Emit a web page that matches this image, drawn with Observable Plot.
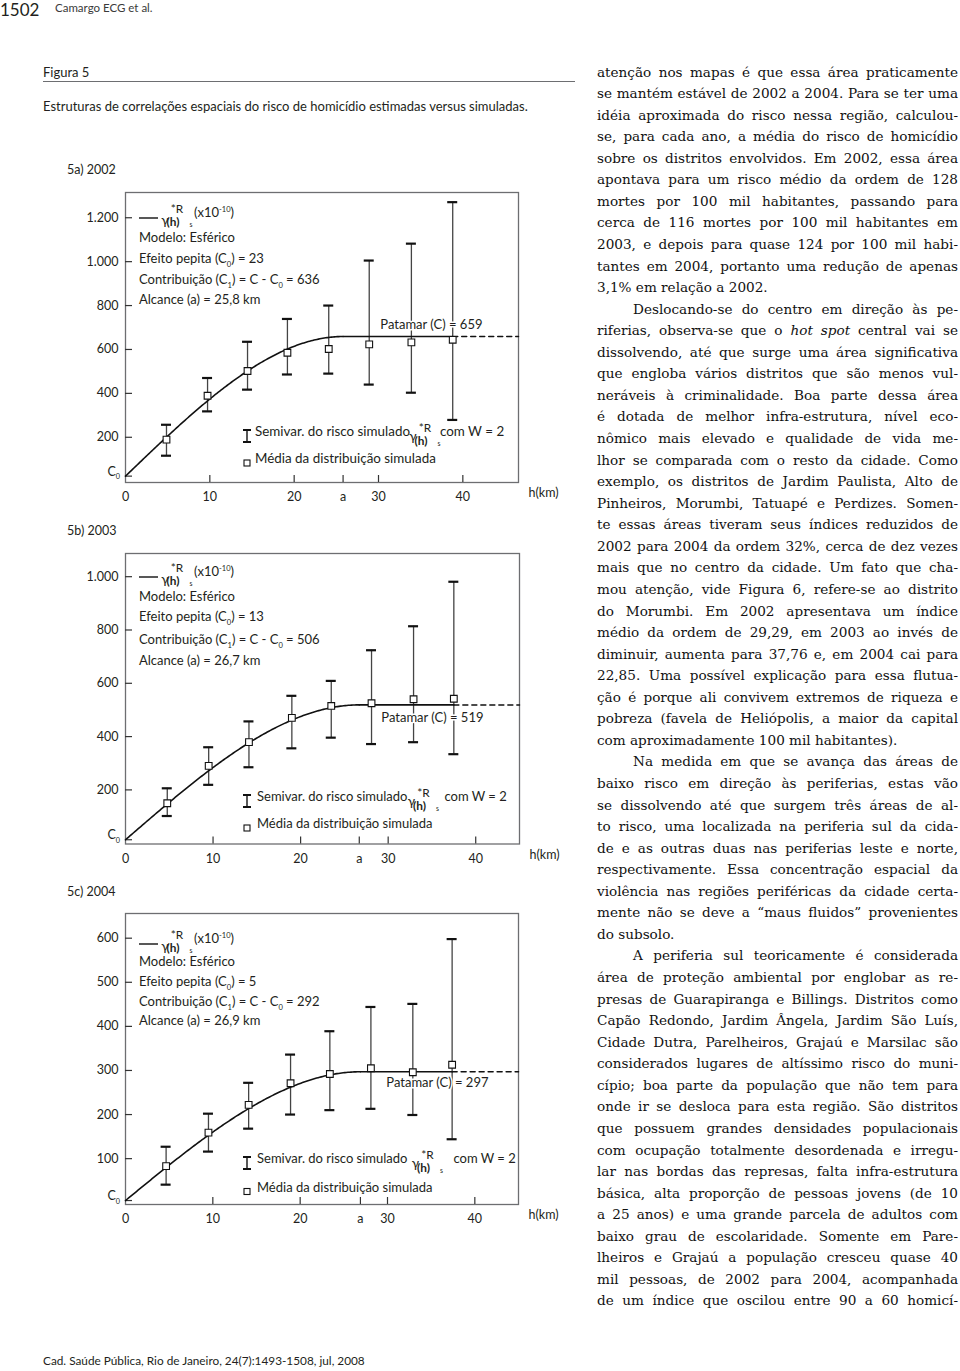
<!DOCTYPE html>
<html lang="pt">
<head>
<meta charset="utf-8">
<script src="https://cdn.jsdelivr.net/npm/d3@7"></script>
<script src="https://cdn.jsdelivr.net/npm/@observablehq/plot@0.6"></script>
<style>
  html, body { margin:0; padding:0; background:#fff; }
  body { position:relative; width:960px; height:1371px; overflow:hidden; font-family: Lato, "Open Sans", sans-serif; color:#231f20; }
  .abs { position:absolute; white-space:nowrap; line-height:1; }
  .body-line { position:absolute; font-family:"DejaVu Serif", serif; font-size:13.6px; line-height:21.56px; height:21.56px; color:#111; }
  .just { text-align:justify; text-align-last:justify; }
  .panel { position:absolute; left:40px; }
  #rule { position:absolute; left:43px; top:81px; width:532px; height:0; border-top:1px solid #6d6e71; }
</style>
</head>
<body>
<div id="rule"></div>
<script>
// ---------------- data ----------------
const years = ["2002", "2003", "2004"];
const panelLabels = ["5a) 2002", "5b) 2003", "5c) 2004"];

const lags2002 = [4.86, 9.73, 14.47, 19.2, 24.1, 28.9, 33.9, 38.8];
const mean2002 = [189, 389, 502, 585, 602, 623, 632, 644];
const low2002  = [116, 318, 417, 486, 490, 440, 403, 279];
const high2002 = [257, 470, 635, 739, 800, 1005, 1082, 1271];

const lags2003 = [4.77, 9.5, 14.1, 19.0, 23.5, 28.1, 32.9, 37.5];
const mean2003 = [150, 290, 379, 470, 515, 525, 540, 542];
const low2003  = [102, 219, 285, 356, 396, 372, 379, 334];
const high2003 = [206, 360, 457, 553, 609, 724, 814, 981];

const lags2004 = [4.65, 9.5, 14.1, 18.9, 23.4, 28.1, 32.9, 37.4];
const mean2004 = [83, 159, 222, 271, 292, 305, 296, 313];
const low2004  = [41, 116, 168, 200, 210, 213, 199, 144];
const high2004 = [127, 202, 272, 336, 389, 444, 451, 598];

// spherical model parameters (as printed in each panel)
const nugget = [23, 13, 5];            // Efeito pepita (C0)
const contribution = [636, 506, 292];  // Contribuição (C1)
const rangeKm = [25.8, 26.7, 26.9];    // Alcance (a)
const sill = [659, 519, 297];          // Patamar (C)

const yTicks2002 = [200, 400, 600, 800, 1000, 1200];
const yTicks2003 = [200, 400, 600, 800, 1000];
const yTicks2004 = [100, 200, 300, 400, 500, 600];
const xTicks = [0, 10, 20, 30, 40];

const bodyLines = [
  "atenção nos mapas é que essa área praticamente",
  "se mantém estável de 2002 a 2004. Para se ter uma",
  "idéia aproximada do risco nessa região, calculou-",
  "se, para cada ano, a média do risco de homicídio",
  "sobre os distritos envolvidos. Em 2002, essa área",
  "apontava para um risco médio da ordem de 128",
  "mortes por 100 mil habitantes, passando para",
  "cerca de 116 mortes por 100 mil habitantes em",
  "2003, e depois para quase 124 por 100 mil habi-",
  "tantes em 2004, portanto uma redução de apenas",
  "3,1% em relação a 2002.",
  "Deslocando-se do centro em direção às pe-",
  "riferias, observa-se que o <i>hot spot</i> central vai se",
  "dissolvendo, até que surge uma área significativa",
  "que engloba vários distritos que são menos vul-",
  "neráveis à criminalidade. Boa parte dessa área",
  "é dotada de melhor infra-estrutura, nível eco-",
  "nômico mais elevado e qualidade de vida me-",
  "lhor se comparada com o resto da cidade. Como",
  "exemplo, os distritos de Jardim Paulista, Alto de",
  "Pinheiros, Morumbi, Tatuapé e Perdizes. Somen-",
  "te essas áreas tiveram seus índices reduzidos de",
  "2002 para 2004 da ordem 32%, cerca de dez vezes",
  "mais que no centro da cidade. Um fato que cha-",
  "mou atenção, vide Figura 6, refere-se ao distrito",
  "do Morumbi. Em 2002 apresentava um índice",
  "médio da ordem de 29,29, em 2003 ao invés de",
  "diminuir, aumenta para 37,76 e, em 2004 cai para",
  "22,85. Uma possível explicação para essa flutua-",
  "ção é porque ali convivem extremos de riqueza e",
  "pobreza (favela de Heliópolis, a maior da capital",
  "com aproximadamente 100 mil habitantes).",
  "Na medida em que se avança das áreas de",
  "baixo risco em direção às periferias, estas vão",
  "se dissolvendo até que surgem três áreas de al-",
  "to risco, uma localizada na periferia sul da cida-",
  "de e as outras duas nas periferias leste e norte,",
  "respectivamente. Essa concentração espacial da",
  "violência nas regiões periféricas da cidade certa-",
  "mente não se deve a “maus fluidos” provenientes",
  "do subsolo.",
  "A periferia sul teoricamente é considerada",
  "área de proteção ambiental por englobar as re-",
  "presas de Guarapiranga e Billings. Distritos como",
  "Capão Redondo, Jardim Ângela, Jardim São Luís,",
  "Cidade Dutra, Parelheiros, Grajaú e Marsilac são",
  "considerados lugares de altíssimo risco do muni-",
  "cípio; boa parte da população que não tem para",
  "onde ir se desloca para esta região. São distritos",
  "que possuem grandes densidades populacionais",
  "com ocupação totalmente desordenada e irregu-",
  "lar nas bordas das represas, falta infra-estrutura",
  "básica, alta proporção de pessoas jovens (de 10",
  "a 25 anos) e uma grande parcela de adultos com",
  "baixo grau de escolaridade. Somente em Pare-",
  "lheiros e Grajaú a população cresceu quase 40",
  "mil pessoas, de 2002 para 2004, acompanhada",
  "de um índice que oscilou entre 90 a 60 homicí-"
];
const paraStart = [11, 32, 41];
const paraEnd = [10, 31, 40];

// ---------------- layout (not data) ----------------
const FONT = "Lato, 'Open Sans', sans-serif";
const INK = "#231f20";
const seriesLags = [lags2002, lags2003, lags2004];
const seriesMean = [mean2002, mean2003, mean2004];
const seriesLow = [low2002, low2003, low2004];
const seriesHigh = [high2002, high2003, high2004];
const seriesYTicks = [yTicks2002, yTicks2003, yTicks2004];

const layout = [
  {top:192, bottom:482, right:518, yDom:[-6, 1315], xMax:46.6, legY:[25,50,71,92,112], simX:130, lfs:13.4, gGap:3, comGap:27, patDx:-36, patDy:-12, legB:[46,19], labelY:171},
  {top:553, bottom:843.5, right:519, yDom:[-3, 1087], xMax:45.0, legY:[23,48,68,91,112], simX:132, lfs:13.0, gGap:4, comGap:33, patDx:-36, patDy:13, legB:[42.5,15.5], labelY:532},
  {top:913, bottom:1204, right:518, yDom:[-4, 656], xMax:45.0, legY:[30,53,73,93,112], simX:132, lfs:13.0, gGap:8, comGap:38, patDx:-30, patDy:11, legB:[41,12.5], labelY:893}
];

function place(text, x, yc, fs, opts = {}) {
  const d = document.createElement("div");
  d.className = "abs";
  d.style.left = x + "px";
  d.style.top = (yc - 0.53 * fs) + "px";
  d.style.fontSize = fs + "px";
  if (opts.color) d.style.color = opts.color;
  d.textContent = text;
  document.body.appendChild(d);
  return d;
}

// header / footer
place("1502", 0, 10, 17, {color:"#231f20"});
place("Camargo ECG et al.", 55, 8.5, 11.5, {color:"#3a3a3a"});
place("Figura 5", 43, 73, 13);
place("Estruturas de correlações espaciais do risco de homicídio estimadas versus simuladas.", 43, 107, 13);
place("Cad. Saúde Pública, Rio de Janeiro, 24(7):1493-1508, jul, 2008", 43, 1361, 11.8);

// rich svg text with sub/superscripts
function rich(g, x, y, parts, fs, anchor = "start", weight = null) {
  const t = g.append("text").attr("x", x).attr("y", y).attr("font-size", fs)
    .attr("text-anchor", anchor).attr("dy", "0.36em");
  if (weight) t.attr("font-weight", weight);
  let shift = 0;
  for (const p of parts) {
    const [s, k] = typeof p === "string" ? [p, ""] : p;
    const target = k === "sub" ? fs * 0.28 : k === "sup" ? -fs * 0.38 : 0;
    const ts = t.append("tspan").text(s).attr("dy", target - shift);
    if (k) ts.attr("font-size", fs * 0.58);
    shift = target;
  }
  return t;
}
function gammaR(g, x, yc, fs, gdy) {
  const B = yc + 0.36 * fs;
  g.append("text").attr("x", x).attr("y", B + gdy).attr("font-size", fs + 1).text("γ");
  g.append("text").attr("x", x + 12).attr("y", B - 8.5).attr("font-size", fs * 0.95).text("*R");
  g.append("text").attr("x", x + 8).attr("y", B + 4.5).attr("font-size", fs * 0.95).attr("font-weight", 700).text("(h)");
  g.append("text").attr("x", x + 26).attr("y", B + 5.5).attr("font-size", fs * 0.55).text("s");
}

function fmt(v) {
  return v >= 1000 ? d3.format(",")(v).replace(/,/g, ".") : String(v);
}

function drawPanel(i) {
  const L = layout[i];
  const lags = seriesLags[i];
  const rows = lags.map((h, k) => ({h, mean: seriesMean[i][k], low: seriesLow[i][k], high: seriesHigh[i][k]}));
  const c0 = nugget[i], c1 = contribution[i], a = rangeKm[i], C = sill[i];
  const model = h => h >= a ? c0 + c1 : c0 + c1 * (1.5 * h / a - 0.5 * Math.pow(h / a, 3));
  const curve = d3.range(0, a, a / 150).concat([a]).map(h => ({h, g: model(h)}));
  const lastLag = lags[lags.length - 1];
  const solid = [{h: a, g: C}, {h: lastLag, g: C}];
  const dashed = [{h: lastLag, g: C}, {h: L.xMax, g: C}];

  const W = 530, ml = 85, mt = 12, mb = 32;
  const mr = (40 + W) - L.right;
  const fh = L.bottom - L.top, fw = L.right - 125;
  const H = fh + mt + mb;
  const yt = seriesYTicks[i];
  const xLab = [...xTicks.slice(0, 3), a, ...xTicks.slice(3)];

  const plot = Plot.plot({
    width: W, height: H, marginLeft: ml, marginRight: mr, marginTop: mt, marginBottom: mb,
    x: {domain: [0, L.xMax]},
    y: {domain: L.yDom},
    style: {fontFamily: FONT, fontSize: "12.5px", color: INK, background: "transparent", overflow: "visible"},
    marks: [
      Plot.frame({stroke: "#6d6e71", strokeWidth: 1.3}),
      Plot.axisY(yt, {tickSize: 0, tickPadding: 7, tickFormat: fmt, label: null, fontSize: 12.5}),
      Plot.axisX(xLab, {tickSize: 0, tickPadding: 10, tickFormat: d => d === a ? "a" : String(d), label: null, fontSize: 12.5}),
      Plot.ruleY([c0, ...yt], {y: d => d, insetRight: fw - 7, stroke: "#333", strokeWidth: 1.2}),
      Plot.ruleX(xLab.filter(d => d > 0), {x: d => d, insetTop: fh - 7, stroke: "#333", strokeWidth: 1.2}),
      Plot.ruleX(rows, {x: "h", y1: "low", y2: "high", stroke: "#444", strokeWidth: 1.3}),
      Plot.ruleY(rows, {y: "high", x1: "h", x2: "h", insetLeft: -5, insetRight: -5, stroke: "#111", strokeWidth: 2.2}),
      Plot.ruleY(rows, {y: "low", x1: "h", x2: "h", insetLeft: -5, insetRight: -5, stroke: "#111", strokeWidth: 2.2}),
      Plot.line(curve, {x: "h", y: "g", stroke: "#111", strokeWidth: 1.6}),
      Plot.line(solid, {x: "h", y: "g", stroke: "#111", strokeWidth: 1.6}),
      Plot.line(dashed, {x: "h", y: "g", stroke: "#111", strokeWidth: 1.5, strokeDasharray: "5,4"}),
      Plot.dot(rows, {x: "h", y: "mean", symbol: "square", r: 3.8, fill: "white", stroke: "#111", strokeWidth: 1.1}),
      Plot.text([C], {y: d => d, frameAnchor: "right", text: d => `Patamar (C) = ${d}`, textAnchor: "end",
        dx: L.patDx, dy: L.patDy, fontSize: 13, fill: INK, stroke: "white", strokeWidth: 3, paintOrder: "stroke"}),
      Plot.text(["h(km)"], {frameAnchor: "bottom-right", text: d => d, textAnchor: "start", dx: 10, dy: 14.7, fontSize: 12.5, fill: INK})
    ]
  });
  plot.classList.add("panel");
  plot.style.top = (L.top - mt) + "px";
  plot.style.position = "absolute";
  plot.style.left = "40px";
  document.body.appendChild(plot);

  const sy = plot.scale("y");
  const svg = d3.select(plot);
  const g = svg.append("g").attr("font-family", FONT).attr("fill", INK);
  const fx = ml, ft = mt, fb = mt + fh;

  // C0 label
  rich(g, fx - 5, sy.apply(c0), ["C", ["0", "sub"]], 12.5, "end");

  // model legend (top left)
  const lx = fx + 14, fs = 13;
  const y0 = ft + L.legY[0];
  g.append("line").attr("x1", lx).attr("x2", lx + 19).attr("y1", y0 + 1).attr("y2", y0 + 1).attr("stroke", "#111").attr("stroke-width", 1.4);
  gammaR(g, lx + 26, y0, 12.5, 3);
  rich(g, lx + 55, y0, ["(x10", ["-10", "sup"], ")"], fs);
  rich(g, lx, ft + L.legY[1], ["Modelo: Esférico"], fs);
  rich(g, lx, ft + L.legY[2], ["Efeito pepita (C", ["0", "sub"], ") = " + c0], fs);
  rich(g, lx, ft + L.legY[3], ["Contribuição (C", ["1", "sub"], ") = C - C", ["0", "sub"], " = " + c1], fs);
  rich(g, lx, ft + L.legY[4], ["Alcance (a) = " + String(a).replace(".", ",") + " km"], fs);

  // symbol legend (bottom)
  const lfs = L.lfs;
  const sx0 = fx + 122;
  const ya = fb - L.legB[0], yb = fb - L.legB[1];
  g.append("line").attr("x1", sx0).attr("x2", sx0).attr("y1", ya - 6).attr("y2", ya + 6).attr("stroke", "#111").attr("stroke-width", 1.4);
  g.append("line").attr("x1", sx0 - 4).attr("x2", sx0 + 4).attr("y1", ya - 6).attr("y2", ya - 6).attr("stroke", "#111").attr("stroke-width", 2);
  g.append("line").attr("x1", sx0 - 4).attr("x2", sx0 + 4).attr("y1", ya + 6).attr("y2", ya + 6).attr("stroke", "#111").attr("stroke-width", 2);
  const simT = rich(g, fx + L.simX, ya, ["Semivar. do risco simulado"], lfs);
  const simEnd = fx + L.simX + simT.node().getComputedTextLength();
  const gx = simEnd + L.gGap;
  gammaR(g, gx, ya, 12.5, 0);
  rich(g, gx + L.comGap, ya, ["com W = 2"], lfs);
  g.append("rect").attr("x", sx0 - 3).attr("y", yb - 3).attr("width", 6).attr("height", 6).attr("fill", "white").attr("stroke", "#111").attr("stroke-width", 1.1);
  rich(g, fx + L.simX, yb, ["Média da distribuição simulada"], lfs);

  place(panelLabels[i], 67, L.labelY, 12.5);
}

[0, 1, 2].forEach(drawPanel);

// body text column
const firstLineY = 72, lineStep = 21.56;
bodyLines.forEach((s, k) => {
  const indent = paraStart.includes(k) ? 36 : 0;
  const avail = 361 - indent;
  const d = document.createElement("div");
  d.className = "body-line";
  d.style.left = (597 + indent) + "px";
  d.style.width = avail + "px";
  d.style.top = (firstLineY + k * lineStep - 10.5) + "px";
  const sp = document.createElement("span");
  sp.style.whiteSpace = "nowrap";
  sp.innerHTML = s;
  d.appendChild(sp);
  document.body.appendChild(d);
  const w = sp.getBoundingClientRect().width;
  const n = s.replace(/<[^>]+>/g, "").length;
  if (w > avail - 1) d.style.letterSpacing = ((avail - 1 - w) / n) + "px";
  d.innerHTML = s;
  if (!paraEnd.includes(k)) d.classList.add("just");
});
</script>
</body>
</html>
